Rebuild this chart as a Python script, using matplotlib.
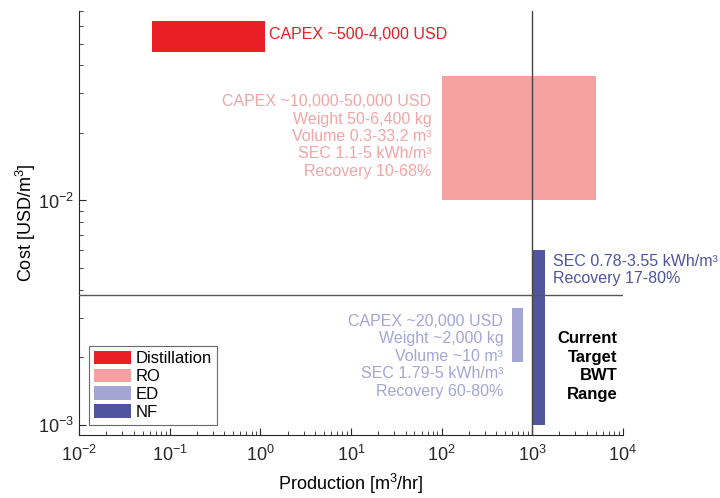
import matplotlib
matplotlib.use("Agg")
import matplotlib.pyplot as plt
from matplotlib.patches import Patch

plt.rcParams['font.family'] = ['Liberation Sans', 'DejaVu Sans']
plt.rcParams['mathtext.fontset'] = 'custom'
plt.rcParams['mathtext.rm'] = 'Liberation Sans'
plt.rcParams['font.size'] = 11.5

# technology ranges: production [m3/hr] and cost [USD/m3]
techs = ['Distillation', 'RO', 'ED', 'NF']
x_lo = [0.063, 100, 600, 1000]
x_hi = [1.13, 5000, 800, 1400]
y_lo = [0.046, 0.010, 0.0019, 0.0010]
y_hi = [0.063, 0.036, 0.0033, 0.0060]
colors = ['#ea1f25', '#f5a1a1', '#a3a5d3', '#5155a0']
text_colors = ['#ea1f25', '#f4a4a4', '#a3a5d6', '#4f53a0']

target_x = 1000
target_y = 0.0038

x_ticks = [1e-2, 1e-1, 1e0, 1e1, 1e2, 1e3, 1e4]
y_ticks = [1e-3, 1e-2]

notes = {
    'Distillation': "CAPEX ~500-4,000 USD",
    'RO': "CAPEX ~10,000-50,000 USD\nWeight 50-6,400 kg\nVolume 0.3-33.2 m³\nSEC 1.1-5 kWh/m³\nRecovery 10-68%",
    'ED': "CAPEX ~20,000 USD\nWeight ~2,000 kg\nVolume ~10 m³\nSEC 1.79-5 kWh/m³\nRecovery 60-80%",
    'NF': "SEC 0.78-3.55 kWh/m³\nRecovery 17-80%",
}
note_pos = {'Distillation': (1.26, 0.0547, 'left'),
            'RO': (77, 0.0193, 'right'),
            'ED': (480, 0.00202, 'right'),
            'NF': (1700, 0.00489, 'left')}

fig = plt.figure(figsize=(7.2, 4.98), dpi=100)
ax = fig.add_axes([0.110, 0.1265, 0.755, 0.8515])
ax.set_xscale('log')
ax.set_yscale('log')

for i, t in enumerate(techs):
    ax.bar(x_lo[i], y_hi[i] - y_lo[i], width=x_hi[i] - x_lo[i], bottom=y_lo[i],
           align='edge', color=colors[i], linewidth=0, zorder=2)
    x, y, ha = note_pos[t]
    ax.text(x, y, notes[t], color=text_colors[i], ha=ha, va='center',
            linespacing=1.2, fontsize=11.5)

ax.axvline(target_x, color='#444444', lw=1.0, zorder=3)
ax.axhline(target_y, color='#555555', lw=1.0, zorder=3)
ax.text(8750, 0.00182, "Current\nTarget\nBWT\nRange", ha='right', va='center',
        fontweight='bold', fontsize=12, linespacing=1.3, color='black')

ax.set_xticks(x_ticks)
ax.set_yticks(y_ticks)
ax.set_xlim(1e-2, 1e4)
ax.set_ylim(9e-4, 7e-2)
ax.set_xlabel(r'Production [m$^3$/hr]', fontsize=13, labelpad=5)
ax.set_ylabel(r'Cost [USD/m$^3$]', fontsize=13, labelpad=0)
ax.spines['top'].set_visible(False)
ax.spines['right'].set_visible(False)
for s in ['left', 'bottom']:
    ax.spines[s].set_color('#262626')
    ax.spines[s].set_linewidth(0.8)
ax.tick_params(which='both', direction='in', colors='#262626', labelsize=13)
ax.tick_params(which='major', length=5)
ax.tick_params(which='minor', length=3)
ax.tick_params(axis='x', pad=7)

handles = [Patch(facecolor=c, edgecolor='none', label=t) for t, c in zip(techs, colors)]
leg = ax.legend(handles=handles, loc='lower left', bbox_to_anchor=(0.018, 0.024),
                borderaxespad=0, fancybox=False, handlelength=2.25, handleheight=0.85,
                handletextpad=0.26, labelspacing=0.15, borderpad=0.3, fontsize=12)
leg.get_frame().set_edgecolor('#444444')
leg.get_frame().set_linewidth(0.8)

fig.savefig('out.png', dpi=100)
